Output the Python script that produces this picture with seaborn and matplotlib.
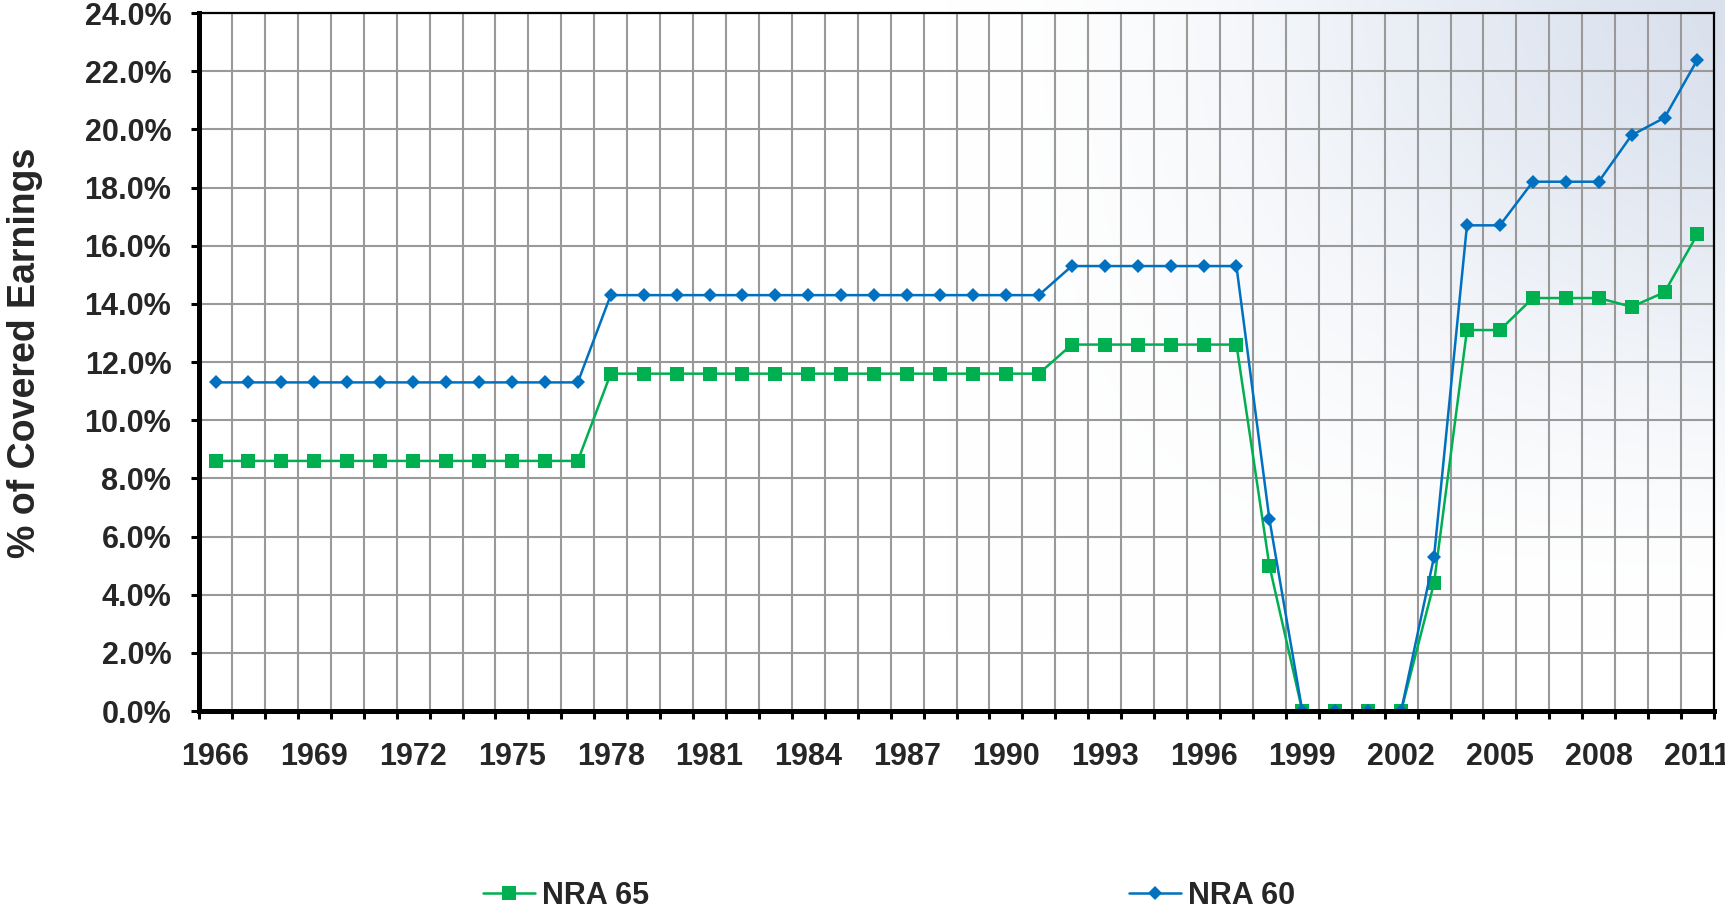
import numpy as np
import pandas as pd
import matplotlib
matplotlib.use("Agg")
import matplotlib.pyplot as plt
import seaborn as sns

# -------------------------------
# Data
# -------------------------------
years = list(range(1966, 2012))
nra65 = [8.6] * 12 + [11.6] * 14 + [12.6] * 6 + [5.0, 0.0, 0.0, 0.0, 0.0, 4.4,
         13.1, 13.1, 14.2, 14.2, 14.2, 13.9, 14.4, 16.4]
nra60 = [11.3] * 12 + [14.3] * 14 + [15.3] * 6 + [6.6, 0.0, 0.0, 0.0, 0.0, 5.3,
         16.7, 16.7, 18.2, 18.2, 18.2, 19.8, 20.4, 22.4]
year_labels = list(range(1966, 2012, 3))
y_ticks = list(range(0, 25, 2))

df = pd.DataFrame({"year": years, "NRA 65": nra65, "NRA 60": nra60})

# -------------------------------
# Style
# -------------------------------
sns.set_style("white")
plt.rcParams["font.family"] = ["Liberation Sans", "DejaVu Sans"]
plt.rcParams["font.weight"] = "bold"

fig = plt.figure(figsize=(17.25, 9.11), dpi=100)


def smoothstep(a, lo, hi):
    s = np.clip((a - lo) / (hi - lo), 0, 1)
    return s * s * (3 - 2 * s)


# soft blue gradient in the upper right corner
bg = fig.add_axes([0, 0, 1, 1], zorder=-1)
u = np.linspace(0, 1, 600)[None, :]
v = np.linspace(0, 1, 320)[:, None]
t = smoothstep(u, 0.55, 1.05) * (1 - smoothstep(v, 0.0, 0.7))
c = np.array([0.85, 0.88, 0.93])
img = (1 - t[..., None]) * np.ones(3) + t[..., None] * c
bg.imshow(img, aspect="auto", extent=[0, 1, 0, 1], interpolation="bilinear")
bg.axis("off")

ax = fig.add_axes([0.1154, 0.2195, 0.8782, 0.7662])
ax.set_facecolor("none")

# -------------------------------
# Lines
# -------------------------------
sns.lineplot(data=df, x="year", y="NRA 65", ax=ax, color="#00B050", lw=1.8,
             marker="s", markersize=10.5, markeredgewidth=0, label="NRA 65")
sns.lineplot(data=df, x="year", y="NRA 60", ax=ax, color="#0070C0", lw=1.8,
             marker="D", markersize=7, markeredgewidth=0, label="NRA 60")

ax.set_xlim(years[0] - 0.5, years[-1] + 0.5)
ax.set_ylim(0, 24)

# x axis: labels at category centres, ticks/grid on boundaries
ax.set_xticks(year_labels)
ax.set_xticklabels([str(y) for y in year_labels], fontsize=22, fontweight="bold")
ax.set_xticks(np.arange(years[0] - 0.5, years[-1] + 1.0, 1), minor=True)
ax.tick_params(axis="x", which="major", length=0, pad=22)
ax.tick_params(axis="x", which="minor", direction="out", length=6, width=2.2,
               color="black", bottom=True)
ax.grid(True, axis="x", which="minor", color="#999999", lw=1.5)

ax.set_yticks(y_ticks)
ax.set_yticklabels([f"{y:.1f}%" for y in y_ticks], fontsize=22, fontweight="bold")
ax.tick_params(axis="y", which="major", direction="out", length=6, width=2.2,
               color="black", pad=14, left=True)
ax.grid(True, axis="y", which="major", color="#999999", lw=1.5)
ax.set_axisbelow(True)

ax.set_xlabel("")
ax.set_ylabel("% of Covered Earnings", fontsize=27, fontweight="bold")
ax.yaxis.set_label_coords(-0.103, 0.513)

for side in ["left", "bottom"]:
    ax.spines[side].set_linewidth(3.6)
    ax.spines[side].set_color("black")
for side in ["top", "right"]:
    ax.spines[side].set_linewidth(1.6)
    ax.spines[side].set_color("black")

# legend at the bottom
ax.get_legend().remove()
handles, labels = ax.get_legend_handles_labels()
fig.legend(handles, labels, loc="center left", bbox_to_anchor=(0.280, 0.0165),
           ncol=2, frameon=False, prop={"weight": "bold", "size": 22},
           handlelength=1.7, handletextpad=0.23, columnspacing=15.7,
           borderpad=0, borderaxespad=0)

fig.savefig("out.png", dpi=100)
